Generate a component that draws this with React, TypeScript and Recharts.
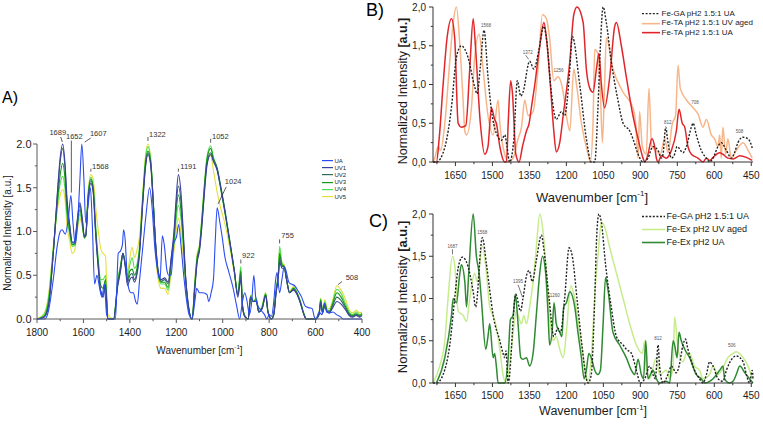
import { LineChart, Line, XAxis, YAxis, ReferenceDot, Label } from "recharts";

type Pt = [number, number];

const FONT = '"Liberation Sans", Arial, sans-serif';

/* ---------- A) UA and UV-aged series ---------- */

// shared wavenumber grid of the five UV-aged runs
const waveA = [
  1800, 1770, 1750, 1730, 1712, 1700, 1689, 1680, 1670, 1660, 1648, 1638, 1628, 1615, 1605, 1596,
  1590, 1580, 1568, 1558, 1548, 1538, 1525, 1515, 1505, 1495, 1470, 1452, 1440, 1430, 1420, 1410,
  1400, 1390, 1380, 1370, 1358, 1345, 1332, 1322, 1310, 1300, 1290, 1278, 1265, 1250, 1235, 1222,
  1210, 1200, 1191, 1180, 1170, 1160, 1150, 1132, 1120, 1110, 1100, 1090, 1080, 1068, 1052, 1040,
  1024, 1010, 990, 970, 950, 935, 922, 915, 905, 890, 880, 868, 855, 845, 830, 815, 805, 790, 780,
  770, 760, 755, 745, 735, 725, 712, 695, 680, 665, 650, 640, 600, 585, 578, 570, 560, 550, 540,
  528, 508, 490, 470, 455, 440, 425, 410, 400,
];

const uv1A = [
  0, 0.02, 0.15, 0.75, 1.45, 1.85, 2.0, 1.8, 1.35, 1.1, 0.88, 0.88, 1.1, 1.33, 1.15, 0.95, 0.95, 1.35,
  1.55, 1.45, 1.0, 0.65, 0.3, 0.25, 0.38, 0, 0, 0.38, 0.55, 0.75, 0.6, 0.38, 0.45, 0.48, 0.42, 0.5,
  0.75, 1.3, 1.75, 1.88, 1.75, 1.35, 0.9, 0.55, 0.45, 0.47, 0.42, 0.7, 1.0, 1.4, 1.65, 1.45, 1.0, 0.5,
  0.2, 0, 0.35, 0.65, 0.78, 1.05, 1.4, 1.75, 1.88, 1.8, 1.7, 1.52, 1.22, 0.9, 0.55, 0.25, 0.45, 0.15,
  0.03, 0, 0.25, 0.2, 0.2, 0.08, 0.12, 0.27, 0.08, 0, 0.05, 0.3, 0.5, 0.65, 0.58, 0.58, 0.45, 0.3,
  0.33, 0.28, 0.18, 0.05, 0, 0, 0.05, 0.18, 0.07, 0.15, 0.08, 0.07, 0.12, 0.2, 0.17, 0.1, 0.04, 0.02,
  0.04, 0.02, 0.04,
];
const uv2A = [
  0, 0.02, 0.17, 0.75, 1.42, 1.8, 1.95, 1.75, 1.3, 1.08, 0.87, 0.87, 1.08, 1.3, 1.13, 0.94, 0.95, 1.38,
  1.58, 1.47, 1.02, 0.65, 0.32, 0.28, 0.4, 0, 0, 0.4, 0.57, 0.75, 0.62, 0.42, 0.5, 0.52, 0.45, 0.53,
  0.78, 1.32, 1.77, 1.9, 1.77, 1.37, 0.9, 0.55, 0.43, 0.45, 0.4, 0.68, 0.95, 1.32, 1.52, 1.35, 0.95,
  0.48, 0.2, 0, 0.37, 0.67, 0.8, 1.08, 1.43, 1.78, 1.9, 1.82, 1.72, 1.54, 1.24, 0.9, 0.55, 0.27, 0.5,
  0.15, 0.03, 0, 0.25, 0.2, 0.2, 0.08, 0.12, 0.27, 0.08, 0, 0.05, 0.3, 0.5, 0.7, 0.6, 0.6, 0.45, 0.3,
  0.34, 0.29, 0.18, 0.05, 0, 0, 0.05, 0.2, 0.07, 0.16, 0.08, 0.08, 0.14, 0.25, 0.21, 0.12, 0.05, 0.03,
  0.05, 0.03, 0.05,
];
const uv3A = [
  0, 0.03, 0.2, 0.75, 1.35, 1.65, 1.78, 1.62, 1.22, 1.02, 0.85, 0.86, 1.05, 1.25, 1.1, 0.93, 0.95, 1.4,
  1.6, 1.5, 1.05, 0.7, 0.38, 0.35, 0.45, 0, 0, 0.42, 0.6, 0.75, 0.62, 0.45, 0.55, 0.57, 0.5, 0.57,
  0.8, 1.35, 1.8, 1.92, 1.8, 1.38, 0.88, 0.52, 0.42, 0.42, 0.36, 0.65, 0.9, 1.25, 1.42, 1.25, 0.9,
  0.46, 0.18, 0, 0.4, 0.7, 0.82, 1.12, 1.47, 1.82, 1.95, 1.83, 1.72, 1.52, 1.22, 0.88, 0.55, 0.28,
  0.55, 0.16, 0.03, 0, 0.25, 0.2, 0.22, 0.08, 0.13, 0.28, 0.08, 0, 0.06, 0.32, 0.52, 0.75, 0.62, 0.6,
  0.45, 0.3, 0.35, 0.3, 0.19, 0.05, 0, 0, 0.06, 0.22, 0.08, 0.18, 0.09, 0.09, 0.16, 0.3, 0.25, 0.14,
  0.06, 0.04, 0.06, 0.04, 0.06,
];
const uv4A = [
  0, 0.05, 0.25, 0.8, 1.3, 1.55, 1.63, 1.5, 1.15, 0.98, 0.83, 0.84, 1.02, 1.2, 1.08, 0.92, 0.95, 1.42,
  1.62, 1.52, 1.1, 0.75, 0.45, 0.45, 0.5, 0, 0, 0.45, 0.62, 0.75, 0.65, 0.5, 0.62, 0.7, 0.58, 0.62,
  0.85, 1.38, 1.85, 1.97, 1.82, 1.4, 0.85, 0.5, 0.4, 0.4, 0.33, 0.62, 0.85, 1.15, 1.3, 1.15, 0.85,
  0.44, 0.17, 0, 0.42, 0.72, 0.84, 1.15, 1.5, 1.85, 1.98, 1.85, 1.72, 1.5, 1.2, 0.87, 0.55, 0.3, 0.6,
  0.17, 0.04, 0, 0.27, 0.2, 0.24, 0.09, 0.15, 0.3, 0.09, 0, 0.07, 0.34, 0.55, 0.83, 0.64, 0.6, 0.46,
  0.3, 0.36, 0.3, 0.2, 0.06, 0, 0, 0.07, 0.23, 0.09, 0.2, 0.1, 0.1, 0.18, 0.34, 0.29, 0.17, 0.08,
  0.05, 0.08, 0.05, 0.07,
];
const uv5A = [
  0, 0.06, 0.28, 0.82, 1.25, 1.42, 1.48, 1.38, 1.05, 0.9, 0.75, 0.78, 0.98, 1.15, 1.05, 0.95, 0.98,
  1.45, 1.65, 1.6, 1.3, 1.05, 0.8, 0.75, 0.72, 0.05, 0, 0.42, 0.6, 0.75, 0.65, 0.55, 0.7, 0.82, 0.7,
  0.78, 0.95, 1.42, 1.88, 2.0, 1.82, 1.35, 0.8, 0.45, 0.35, 0.35, 0.28, 0.55, 0.78, 1.02, 1.15, 0.98,
  0.72, 0.4, 0.15, 0, 0.45, 0.75, 0.85, 1.15, 1.5, 1.78, 1.87, 1.7, 1.45, 1.28, 1.08, 0.82, 0.52,
  0.28, 0.5, 0.15, 0.04, 0, 0.27, 0.2, 0.24, 0.09, 0.15, 0.3, 0.09, 0, 0.07, 0.33, 0.55, 0.8, 0.65,
  0.62, 0.47, 0.32, 0.37, 0.31, 0.2, 0.06, 0, 0, 0.07, 0.24, 0.1, 0.22, 0.12, 0.12, 0.2, 0.38, 0.33,
  0.22, 0.1, 0.07, 0.1, 0.07, 0.08,
];

const uaA: Pt[] = [
  [1800, 0], [1765, 0], [1750, 0.1], [1730, 0.45], [1712, 0.85], [1700, 1.0], [1692, 1.02],
  [1678, 0.97], [1665, 1.15], [1654, 1.41], [1645, 1.1], [1635, 0.85], [1625, 1.1], [1615, 1.6],
  [1607, 2.0], [1598, 1.6], [1590, 1.1], [1580, 1.3], [1570, 1.5], [1562, 1.1], [1552, 0.4],
  [1542, 0.5], [1530, 0.35], [1520, 0.25], [1510, 0.4], [1500, 0.05], [1490, 0], [1462, 0],
  [1450, 0.75], [1440, 0.78], [1432, 0.85], [1427, 1.02], [1420, 0.9], [1412, 0.5], [1405, 0.35],
  [1395, 0.3], [1385, 0.3], [1375, 0.2], [1368, 0.17], [1358, 0.45], [1345, 0.8], [1330, 1.2],
  [1315, 1.5], [1305, 1.3], [1292, 0.8], [1280, 0.55], [1270, 0.45], [1260, 0.95], [1252, 0.85],
  [1240, 0.55], [1232, 0.5], [1222, 0.5], [1212, 0.85], [1198, 0.95], [1190, 1.08], [1180, 0.85],
  [1168, 0.5], [1155, 0.2], [1145, 0.05], [1132, 0], [1120, 0.2], [1112, 0.35], [1100, 0.3],
  [1085, 0.3], [1068, 0.28], [1060, 0.2], [1050, 0.3], [1040, 0.45], [1032, 0.9], [1024, 1.27],
  [1012, 1.1], [1003, 0.95], [990, 0.7], [975, 0.55], [955, 0.35], [940, 0.15], [927, 0],
  [915, 0.2], [905, 0.3], [895, 0.2], [885, 0.05], [875, 0.2], [866, 0.5], [858, 0.25], [848, 0.15],
  [835, 0.1], [820, 0.05], [810, 0], [800, 0.05], [790, 0.03], [780, 0.2], [772, 0.45], [766, 0.53],
  [755, 0.3], [745, 0.45], [735, 0.6], [727, 0.55], [715, 0.42], [705, 0.4], [690, 0.38],
  [675, 0.32], [660, 0.25], [645, 0.15], [630, 0.13], [615, 0.12], [605, 0.02], [598, 0], [585, 0.08],
  [572, 0.05], [562, 0.18], [552, 0.08], [540, 0.07], [525, 0.08], [510, 0.05], [495, 0.03],
  [480, 0], [400, 0],
];

const peaksA: Pt[] = [
  [1689, 2.0], [1652, 1.41], [1607, 2.0], [1568, 1.65], [1322, 2.0], [1191, 1.65], [1052, 1.98],
  [1024, 1.27], [922, 0.6], [755, 0.83], [508, 0.37],
];

/* ---------- B) Fe-GA vs Fe-TA ---------- */

const feGaB: Pt[] = [
  [1741, 0], [1727, 0], [1693, 0.19], [1666, 0.71], [1646, 1.35], [1626, 1.5], [1599, 1.35],
  [1572, 0.97], [1562, 0.88], [1549, 1.23], [1534, 1.7], [1518, 1.1], [1504, 0.67], [1484, 0.37],
  [1463, 0.28], [1450, 0.35], [1441, 0.2], [1430, 0], [1413, 0.3], [1399, 1.05], [1385, 0.85],
  [1376, 0.9], [1349, 1.3], [1332, 1.2], [1311, 1.45], [1292, 1.75], [1281, 1.6], [1261, 0.9],
  [1241, 0.55], [1220, 0.65], [1207, 0.6], [1186, 1.2], [1176, 1.62], [1146, 1.0], [1119, 0.3],
  [1099, 0], [1085, 0], [1072, 0.7], [1062, 1.5], [1051, 2.0], [1038, 1.8], [1018, 1.3], [991, 0.8],
  [970, 0.5], [943, 0.4], [930, 0.3], [909, 0.1], [889, 0], [869, 0.05], [849, 0.2], [828, 0.15],
  [815, 0.05], [808, 0.1], [797, 0.45], [790, 0.3], [774, 0.05], [761, 0.1], [751, 0.2], [727, 0.12],
  [713, 0.2], [693, 0.45], [686, 0.5], [673, 0.35], [653, 0.15], [632, 0.05], [619, 0], [605, 0.05],
  [585, 0.2], [572, 0.25], [551, 0.15], [531, 0.05], [518, 0.12], [504, 0.25], [484, 0.32],
  [463, 0.3], [446, 0.18],
];

const feTaAgedB: Pt[] = [
  [1741, 0], [1734, 0.05], [1720, 0.2], [1710, 0.15], [1693, 0.5], [1673, 1.3], [1659, 1.8],
  [1646, 2.0], [1632, 1.5], [1619, 0.8], [1612, 0.4], [1605, 0.35], [1585, 0.7], [1572, 1.35],
  [1554, 1.65], [1538, 1.2], [1518, 0.6], [1497, 0.35], [1477, 0.8], [1470, 0.5], [1450, 0.1],
  [1436, 0], [1416, 0.05], [1396, 0.3], [1382, 0.45], [1369, 0.8], [1355, 0.6], [1335, 0.65],
  [1315, 1.2], [1297, 1.9], [1281, 1.85], [1268, 1.6], [1251, 1.05], [1234, 1.1], [1213, 0.9],
  [1200, 0.6], [1186, 0.4], [1170, 1.2], [1159, 1.0], [1139, 0.5], [1112, 0.1], [1103, 0],
  [1092, 0.5], [1085, 1.45], [1072, 1.4], [1062, 0.9], [1054, 0.25], [1045, 1.0], [1038, 1.6],
  [1011, 1.2], [970, 0.9], [930, 0.7], [919, 0.5], [909, 0.05], [903, 0.65], [892, 0.2], [876, 0.1],
  [865, 0.95], [854, 0.2], [835, 0.15], [819, 0.1], [801, 0.3], [788, 0.12], [770, 0.5], [757, 0.6],
  [747, 1.25], [738, 0.95], [713, 0.8], [686, 0.7], [666, 0.62], [646, 0.45], [632, 0.55],
  [612, 0.35], [599, 0.3], [585, 0.2], [578, 0.35], [572, 0.05], [565, 0.45], [554, 0.1], [545, 0.3],
  [531, 0.05], [511, 0.15], [483, 0.25], [463, 0.15], [446, 0.05],
];

const feTaB: Pt[] = [
  [1741, 0], [1727, 0], [1716, 0.3], [1700, 1.0], [1684, 1.6], [1666, 1.85], [1653, 1.6],
  [1639, 0.5], [1626, 0.45], [1608, 0.47], [1592, 1.2], [1578, 1.85], [1569, 1.5], [1549, 0.5],
  [1531, 0.1], [1518, 0.2], [1504, 0.7], [1491, 0.55], [1484, 0.5], [1470, 0.2], [1450, 0], [1443, 0],
  [1436, 0.5], [1426, 1.05], [1419, 0.9], [1405, 0.1], [1392, 0], [1378, 0.2], [1362, 0.4],
  [1351, 0.5], [1342, 0.7], [1328, 1.0], [1308, 1.5], [1291, 1.8], [1281, 1.6], [1265, 1.0],
  [1251, 0.4], [1241, 0.13], [1227, 0.25], [1213, 0.6], [1186, 1.3], [1170, 1.9], [1157, 2.0],
  [1132, 1.8], [1119, 1.2], [1105, 0.95], [1092, 0.9], [1078, 1.2], [1068, 1.4], [1058, 1.0],
  [1045, 0.7], [1024, 1.1], [1004, 1.75], [997, 1.8], [977, 1.5], [957, 1.1], [930, 0.6], [909, 0.3],
  [889, 0.05], [882, 0], [869, 0.1], [853, 0.3], [842, 0.2], [835, 0.05], [828, 0], [815, 0.08],
  [795, 0.05], [774, 0.15], [754, 0.4], [743, 0.68], [730, 0.5], [720, 0.45], [707, 0.2], [693, 0.1],
  [666, 0.05], [646, 0], [632, 0.05], [619, 0.02], [605, 0.06], [578, 0.12], [565, 0.1], [545, 0.05],
  [524, 0.04], [496, 0.08], [470, 0.06], [446, 0.02],
];

const peaksB: Pt[] = [[1534, 1.7], [1349, 1.3], [1234, 1.1], [797, 0.45], [686, 0.7], [484, 0.32]];
const peakNamesB = ["1568", "1372", "1256", "812", "708", "508"];

/* ---------- C) Fe-GA vs Fe-Ex ---------- */

const feGaC: Pt[] = [
  [1741, 0], [1727, 0], [1700, 0.1], [1673, 0.45], [1653, 1.0], [1639, 1.36], [1622, 1.49],
  [1599, 1.38], [1578, 1.08], [1568, 0.9], [1541, 1.72], [1524, 1.4], [1511, 1.1], [1497, 0.8],
  [1470, 0.5], [1457, 0.35], [1450, 0.3], [1445, 0.38], [1436, 0], [1405, 1.05], [1386, 0.85],
  [1376, 1.0], [1359, 1.3], [1351, 1.33], [1338, 1.2], [1322, 1.45], [1301, 1.75], [1292, 1.6],
  [1270, 1.0], [1251, 0.55], [1234, 0.65], [1224, 0.6], [1207, 1.0], [1189, 1.6], [1176, 1.5],
  [1157, 1.0], [1135, 0.4], [1119, 0.05], [1112, 0], [1099, 0.1], [1085, 1.0], [1076, 1.8],
  [1068, 2.0], [1058, 1.9], [1041, 1.4], [1018, 0.9], [997, 0.55], [970, 0.45], [957, 0.4],
  [936, 0.35], [916, 0.15], [900, 0], [882, 0.05], [862, 0.2], [849, 0.1], [839, 0.05], [828, 0.45],
  [822, 0.2], [808, 0], [788, 0.1], [774, 0.2], [754, 0.12], [743, 0.2], [727, 0.45], [717, 0.52],
  [707, 0.4], [680, 0.15], [660, 0.05], [646, 0], [632, 0.1], [619, 0.25], [605, 0.2], [585, 0.05],
  [565, 0.02], [551, 0.15], [524, 0.3], [511, 0.32], [483, 0.25], [470, 0.1], [457, 0], [446, 0.15],
  [443, 0.05],
];

const feExAgedC: Pt[] = [
  [1741, 0], [1714, 0.2], [1693, 0.5], [1680, 1.0], [1662, 1.5], [1653, 1.4], [1639, 0.85],
  [1619, 0.8], [1605, 0.73], [1592, 1.0], [1572, 1.3], [1562, 1.2], [1541, 1.62], [1524, 1.3],
  [1511, 0.9], [1491, 0.75], [1470, 0.4], [1457, 0.1], [1443, 0], [1427, 0.3], [1416, 0.6],
  [1403, 0.85], [1382, 0.7], [1373, 0.8], [1362, 0.7], [1349, 0.9], [1335, 1.2], [1322, 1.6],
  [1308, 2.0], [1295, 1.8], [1281, 1.3], [1268, 0.8], [1254, 0.5], [1241, 0.55], [1227, 0.4],
  [1213, 0.3], [1200, 0.6], [1182, 1.15], [1166, 1.0], [1146, 0.6], [1126, 0.2], [1112, 0],
  [1099, 0.3], [1081, 1.2], [1072, 1.5], [1058, 1.9], [1045, 1.85], [1024, 1.6], [997, 1.3],
  [970, 1.0], [943, 0.7], [916, 0.45], [892, 0.35], [882, 0.5], [876, 0.2], [862, 0.05], [835, 0.3],
  [822, 0.1], [795, 0.15], [781, 0.05], [767, 0.2], [761, 0.78], [747, 0.4], [727, 0.25], [713, 0.35],
  [700, 0.35], [680, 0.2], [660, 0.15], [646, 0.05], [619, 0.1], [605, 0.2], [585, 0.1], [565, 0.18],
  [545, 0.3], [524, 0.35], [511, 0.37], [483, 0.3], [463, 0.2], [446, 0.05],
];

const feExC: Pt[] = [
  [1727, 0], [1693, 0.3], [1666, 0.8], [1659, 1.0], [1646, 0.95], [1632, 1.3], [1626, 1.4],
  [1612, 1.2], [1605, 0.9], [1596, 1.3], [1578, 2.0], [1565, 1.5], [1554, 1.3], [1545, 1.0],
  [1527, 0.4], [1518, 0.55], [1511, 0.7], [1497, 0.3], [1491, 0.35], [1484, 0.2], [1477, 0],
  [1450, 0], [1436, 0.3], [1427, 0.75], [1416, 0.8], [1407, 1.05], [1396, 0.7], [1385, 0.3],
  [1376, 0.28], [1362, 0.3], [1349, 0.2], [1335, 0.35], [1322, 0.8], [1308, 1.3], [1297, 1.5],
  [1284, 1.3], [1274, 0.8], [1268, 0.45], [1258, 0.6], [1250, 0.95], [1241, 0.7], [1227, 0.6],
  [1218, 0.55], [1211, 0.9], [1200, 0.95], [1186, 1.08], [1166, 0.9], [1153, 0.6], [1139, 0.3],
  [1128, 0.05], [1119, 0.15], [1109, 0.35], [1099, 0.3], [1085, 0.15], [1072, 0.1], [1062, 0.15],
  [1051, 0.7], [1041, 1.25], [1031, 1.1], [1011, 0.6], [984, 0.45], [957, 0.3], [936, 0.15],
  [923, 0.1], [909, 0.28], [896, 0.1], [887, 0.05], [878, 0.5], [869, 0.05], [849, 0.15], [835, 0.05],
  [822, 0], [795, 0.02], [781, 0], [767, 0.5], [761, 0.45], [751, 0.3], [743, 0.6], [734, 0.5],
  [720, 0.4], [700, 0.3], [673, 0.1], [653, 0.05], [639, 0], [619, 0.02], [605, 0.05], [578, 0.15],
  [565, 0.2], [558, 0.05], [538, 0], [524, 0.02], [511, 0.1], [496, 0.2], [476, 0.12], [457, 0.05],
  [443, 0],
];

const peaksC: Pt[] = [[1662, 1.5], [1541, 1.72], [1405, 1.05], [1250, 0.95], [828, 0.45], [511, 0.37]];
const peakNamesC = ["1687", "1568", "1395", "1260", "812", "506"];

/* ---------- helpers ---------- */

const zip = (xs: number[], ys: number[]): Pt[] => xs.map((x, i) => [x, ys[i]]);

// one row per wavenumber; series without a point there stay empty (connectNulls bridges them)
function buildRows(series: Record<string, Pt[]>) {
  const rows = new Map<number, Record<string, number>>();
  Object.entries(series).forEach(([key, pts]) => {
    pts.forEach(([w, v]) => {
      const row = rows.get(w) ?? { w };
      row[key] = v;
      rows.set(w, row);
    });
  });
  // high -> low so the reversed axis is drawn left to right
  return [...rows.values()].sort((a, b) => b.w - a.w);
}

const range = (from: number, to: number, step: number) => {
  const out: number[] = [];
  for (let v = from; v <= to + 1e-9; v += step) out.push(Math.round(v * 1000) / 1000);
  return out;
};

type TickCfg = {
  major: (v: number) => boolean;
  fmt: (v: number) => string;
  size: number;
  len: number;
  gap: number;
  color: string;
};

const bottomTick = (c: TickCfg) => (p: any) => {
  const v = p.payload.value;
  const m = c.major(v);
  return (
    <g>
      <line x1={p.x} x2={p.x} y1={p.y} y2={p.y + (m ? c.len : c.len * 0.55)} stroke={c.color} />
      {m && (
        <text x={p.x} y={p.y + c.gap} dy="0.35em" textAnchor="middle" fontSize={c.size} fill="#1c1c1c" fontFamily={FONT}>
          {c.fmt(v)}
        </text>
      )}
    </g>
  );
};

const leftTick = (c: TickCfg) => (p: any) => {
  const v = p.payload.value;
  const m = c.major(v);
  return (
    <g>
      <line x1={p.x - (m ? c.len : c.len * 0.55)} x2={p.x} y1={p.y} y2={p.y} stroke={c.color} />
      {m && (
        <text x={p.x - c.gap} y={p.y} dy="0.35em" textAnchor="end" fontSize={c.size} fill="#1c1c1c" fontFamily={FONT}>
          {c.fmt(v)}
        </text>
      )}
    </g>
  );
};

const yTitle = (x: number, y: number, size: number, bold: boolean) => () => (
  <text transform={`translate(${x},${y}) rotate(-90)`} dy="0.35em" textAnchor="middle" fontSize={size} fill="#1c1c1c" fontFamily={FONT}>
    Normalized Intensity <tspan fontWeight={bold ? 700 : 400}>[a.u.]</tspan>
  </text>
);

const xTitle = (x: number, y: number, size: number) => () => (
  <text x={x} y={y} dy="0.35em" textAnchor="middle" fontSize={size} fill="#1c1c1c" fontFamily={FONT}>
    Wavenumber [cm
    <tspan fontSize={size * 0.62} dy={-size * 0.42}>
      -1
    </tspan>
    <tspan dy={size * 0.42}>]</tspan>
  </text>
);

// peak callout: text centre (tx, ty) and leader (x1, y1)-(x2, y2) relative to the peak
const callout = (text: string, lay: number[], size: number, color: string) => (p: any) => {
  const { cx, cy } = p;
  const [tx, ty, x1 = 0, y1 = 0, x2 = 0, y2 = 0] = lay;
  return (
    <g>
      {(x1 !== x2 || y1 !== y2) && (
        <line x1={cx + x1} y1={cy + y1} x2={cx + x2} y2={cy + y2} stroke={color} strokeWidth={0.8} />
      )}
      <text x={cx + tx} y={cy + ty} dy="0.35em" textAnchor="middle" fontSize={size} fill={color} fontFamily={FONT}>
        {text}
      </text>
    </g>
  );
};

type LegendItem = { name: string; color: string; dash?: string; width: number };

function LegendBox(props: {
  items: LegendItem[];
  left: number;
  top: number;
  rowH: number;
  size: number;
  lineW: number;
}) {
  const { items, left, top, rowH, size, lineW } = props;
  return (
    <div style={{ position: "absolute", left, top, fontFamily: FONT, fontSize: size, color: "#1c1c1c" }}>
      {items.map((it) => (
        <div key={it.name} style={{ display: "flex", alignItems: "center", height: rowH, whiteSpace: "nowrap" }}>
          <svg width={lineW} height={rowH} style={{ display: "block" }}>
            <line x1={0} x2={lineW} y1={rowH / 2} y2={rowH / 2} stroke={it.color} strokeWidth={it.width} strokeDasharray={it.dash} />
          </svg>
          <span style={{ marginLeft: 1.5, lineHeight: 1 }}>{it.name}</span>
        </div>
      ))}
    </div>
  );
}

/* ---------- panels ---------- */

const colorsA = {
  ua: "#2a4cf2",
  uv1: "#3c3f9e",
  uv2: "#2e6a5c",
  uv3: "#159515",
  uv4: "#4fe04f",
  uv5: "#e4e03a",
};

const calloutA: number[][] = [
  [-5, -12, -2, -7, -0.5, -2],
  [3, -59, 0, -55, 0, -3],
  [16.5, -11, 3, -2, 9, -6],
  [9.5, -8, 0, -3, 0, -6],
  [9.5, -10, 0, -3, 0, -7],
  [10, -8, 0, -3, 0, -6],
  [9.7, -9.7, 0, -3, 0, -7],
  [16, -27, 1, -4, 9, -21],
  [7.5, -11, 0, -3, 0, -7],
  [8, -11, 0, -3, 0, -7],
  [15, -9, 1, -2, 5, -5],
];

function PanelA() {
  const rows = buildRows({
    ua: uaA,
    uv1: zip(waveA, uv1A),
    uv2: zip(waveA, uv2A),
    uv3: zip(waveA, uv3A),
    uv4: zip(waveA, uv4A),
    uv5: zip(waveA, uv5A),
  });
  const axisColor = "#5a5a5a";
  const order: (keyof typeof colorsA)[] = ["uv5", "uv4", "uv3", "uv2", "uv1", "ua"];
  return (
    <div style={{ position: "absolute", left: 0, top: 100 }}>
      <LineChart width={380} height={260} data={rows} margin={{ top: 44, right: 18, bottom: 0, left: 0 }}>
        <XAxis
          dataKey="w"
          type="number"
          domain={[400, 1800]}
          reversed
          ticks={range(400, 1800, 100)}
          interval={0}
          tickSize={0}
          tickMargin={0}
          tickLine={false}
          height={41}
          axisLine={{ stroke: axisColor }}
          tick={bottomTick({ major: (v) => v % 200 === 0, fmt: (v) => String(v), size: 10, len: 4, gap: 13, color: axisColor })}
        >
          <Label content={xTitle(199.5, 250, 10)} />
        </XAxis>
        <YAxis
          type="number"
          domain={[0, 2]}
          ticks={range(0, 2, 0.25)}
          interval={0}
          width={37}
          tickSize={0}
          tickMargin={0}
          tickLine={false}
          axisLine={{ stroke: axisColor }}
          tick={leftTick({
            major: (v) => Math.abs(v * 2 - Math.round(v * 2)) < 1e-6,
            fmt: (v) => v.toFixed(1),
            size: 11,
            len: 4,
            gap: 5.5,
            color: axisColor,
          })}
        >
          <Label content={yTitle(7.5, 133, 10, false)} />
        </YAxis>
        {order.map((k) => (
          <Line
            key={k}
            dataKey={k}
            type="monotone"
            stroke={colorsA[k]}
            strokeWidth={1.1}
            dot={false}
            activeDot={false}
            connectNulls
            isAnimationActive={false}
          />
        ))}
        {peaksA.map(([w, v], i) => (
          <ReferenceDot key={w} x={w} y={v} r={0} shape={callout(String(w), calloutA[i], 7.5, "#333")} />
        ))}
      </LineChart>
    </div>
  );
}

const calloutB: number[][] = [
  [2, -5],
  [-2, -9, -4, -6, -1, -2],
  [0.5, -6.5],
  [2, -5],
  [2, -5.5],
  [-3.5, -5.5],
];

const calloutC: number[][] = [
  [0, -9.7, 0, -2, 0, -7],
  [0, -5],
  [2.2, -12.8, 2.2, -9.5, 6.6, 2.8],
  [0.7, -7],
  [0, -7],
  [-4.6, -6.5],
];

const specTickY = leftTick({
  major: (v) => Math.abs(v * 2 - Math.round(v * 2)) < 1e-6,
  fmt: (v) => v.toFixed(1).replace(".", ","),
  size: 10,
  len: 4,
  gap: 7,
  color: "#333",
});

function SpectraPanel(props: {
  top: number;
  height: number;
  marginTop: number;
  plotH: number;
  rows: Record<string, number>[];
  lines: { key: string; color: string; width: number; dash?: string }[];
  peaks: Pt[];
  names: string[];
  layout: number[][];
  tickGap: number;
  yTitleAt: [number, number, number];
  xTitleAt: [number, number, number];
}) {
  const { top, height, marginTop, plotH, rows, lines, peaks, names, layout, tickGap, yTitleAt, xTitleAt } = props;
  const tickX = bottomTick({
    major: (v) => (v - 450) % 150 === 0,
    fmt: (v) => String(v),
    size: 10,
    len: 4,
    gap: tickGap,
    color: "#333",
  });
  return (
    <div style={{ position: "absolute", left: 380, top }}>
      <LineChart width={383} height={height} data={rows} margin={{ top: marginTop, right: 10, bottom: 0, left: 0 }}>
        <XAxis
          dataKey="w"
          type="number"
          domain={[443, 1741]}
          reversed
          ticks={range(450, 1725, 75)}
          interval={0}
          tickSize={0}
          tickMargin={0}
          tickLine={false}
          height={height - marginTop - plotH}
          axisLine={{ stroke: "#333" }}
          tick={tickX}
        >
          <Label content={xTitle(xTitleAt[0], xTitleAt[1], xTitleAt[2])} />
        </XAxis>
        <YAxis
          type="number"
          domain={[0, 2]}
          ticks={range(0, 2, 0.25)}
          interval={0}
          width={53}
          tickSize={0}
          tickMargin={0}
          tickLine={false}
          axisLine={{ stroke: "#333" }}
          tick={specTickY}
        >
          <Label content={yTitle(yTitleAt[0], yTitleAt[1], yTitleAt[2], true)} />
        </YAxis>
        {lines.map((l) => (
          <Line
            key={l.key}
            dataKey={l.key}
            type="monotone"
            stroke={l.color}
            strokeWidth={l.width}
            strokeDasharray={l.dash}
            dot={false}
            activeDot={false}
            connectNulls
            isAnimationActive={false}
          />
        ))}
        {peaks.map(([w, v], i) => (
          <ReferenceDot key={w} x={w} y={v} r={0} shape={callout(names[i], layout[i], 4.5, "#555")} />
        ))}
      </LineChart>
    </div>
  );
}

export default function App() {
  const rowsB = buildRows({ gaB: feGaB, taAged: feTaAgedB, ta: feTaB });
  const rowsC = buildRows({ gaC: feGaC, exAged: feExAgedC, ex: feExC });
  return (
    <div
      style={{
        position: "absolute",
        left: 0,
        top: 0,
        width: 763,
        height: 424,
        background: "#fff",
        overflow: "hidden",
        fontFamily: FONT,
      }}
    >
      <PanelA />
      <SpectraPanel
        top={0}
        height={210}
        marginTop={7}
        plotH={155}
        rows={rowsB}
        lines={[
          { key: "taAged", color: "#f7b68a", width: 1.5 },
          { key: "ta", color: "#e0262b", width: 1.5 },
          { key: "gaB", color: "#222", width: 1.4, dash: "2 1.6" },
        ]}
        peaks={peaksB}
        names={peakNamesB}
        layout={calloutB}
        tickGap={13.8}
        yTitleAt={[23, 91, 12.5]}
        xTitleAt={[212, 197, 13]}
      />
      <SpectraPanel
        top={205}
        height={219}
        marginTop={9}
        plotH={169}
        rows={rowsC}
        lines={[
          { key: "exAged", color: "#c6ec8c", width: 1.5 },
          { key: "ex", color: "#2f8a33", width: 1.5 },
          { key: "gaC", color: "#222", width: 1.4, dash: "2 1.6" },
        ]}
        peaks={peaksC}
        names={peakNamesC}
        layout={calloutC}
        tickGap={12.3}
        yTitleAt={[22, 92, 13]}
        xTitleAt={[213, 205.5, 12.5]}
      />

      <LegendBox
        left={322}
        top={157}
        rowH={7.2}
        size={6}
        lineW={11}
        items={[
          { name: "UA", color: colorsA.ua, width: 1.2 },
          { name: "UV1", color: colorsA.uv1, width: 1.2 },
          { name: "UV2", color: colorsA.uv2, width: 1.2 },
          { name: "UV3", color: colorsA.uv3, width: 1.2 },
          { name: "UV4", color: colorsA.uv4, width: 1.2 },
          { name: "UV5", color: colorsA.uv5, width: 1.2 },
        ]}
      />
      <LegendBox
        left={642}
        top={9.3}
        rowH={9.3}
        size={8}
        lineW={18}
        items={[
          { name: "Fe-GA pH2 1.5:1 UA", color: "#222", dash: "2 1.6", width: 1.4 },
          { name: "Fe-TA pH2 1.5:1 UV aged", color: "#f7b68a", width: 1.6 },
          { name: "Fe-TA pH2 1.5:1 UA", color: "#e0262b", width: 1.6 },
        ]}
      />
      <LegendBox
        left={642}
        top={210.2}
        rowH={13}
        size={9}
        lineW={23}
        items={[
          { name: "Fe-GA pH2 1.5:1 UA", color: "#222", dash: "2 1.6", width: 1.4 },
          { name: "Fe-Ex pH2 UV aged", color: "#c6ec8c", width: 1.6 },
          { name: "Fe-Ex pH2 UA", color: "#2f8a33", width: 1.6 },
        ]}
      />

      <div style={{ position: "absolute", left: 2, top: 90, fontSize: 16, lineHeight: 1 }}>A)</div>
      <div style={{ position: "absolute", left: 366, top: 1, fontSize: 18, lineHeight: 1 }}>B)</div>
      <div style={{ position: "absolute", left: 369, top: 212, fontSize: 18, lineHeight: 1 }}>C)</div>
    </div>
  );
}
